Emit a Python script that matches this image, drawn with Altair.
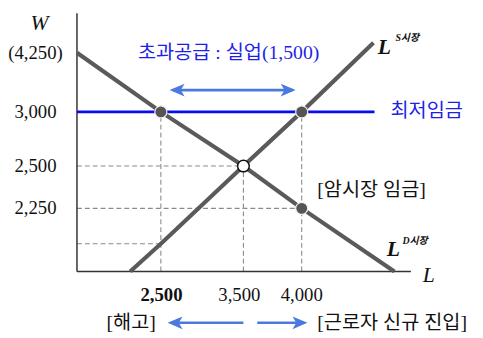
import altair as alt
import pandas as pd

# Diagram units: x runs 0..100 (labour L), y runs 0..110 (wage W); the original diagram is not to scale.
d_x = [0, 24.9, 49.4, 66.7, 94.2]
d_y = [92.5, 67.5, 44.6, 26.7, 0]
s_x = [15.8, 24.9, 49.4, 66.7, 88.0]
s_y = [0, 11.7, 44.6, 67.5, 96.7]
minwage_x = [0, 88.3]
minwage_y = 67.5

filled_x = [24.9, 66.7, 66.7]
filled_y = [67.5, 67.5, 26.7]
open_x = [49.4]
open_y = [44.6]

vdash_x = [24.9, 49.4, 66.7]
vdash_top = [67.5, 44.6, 67.5]
hdash_y = [44.6, 26.7, 11.7]
hdash_right = [49.4, 66.7, 24.9]

ytick_pos = [92.5, 67.5, 44.6, 26.7]
ytick_labels = ["(4,250)", "3,000", "2,500", "2,250"]
xtick_pos = [25.1, 48.2, 66.7]
xtick_labels = ["2,500", "3,500", "4,000"]

SERIF = "Liberation Serif, Noto Sans CJK KR"
BLUE_TXT = "#1f1fe8"
ARROW = "#4a7ae0"
GRAY = "#5a5a5a"

xs = alt.Scale(domain=[0, 100], nice=False, zero=False)
ys = alt.Scale(domain=[0, 110], nice=False, zero=False)


def X(f="x"):
    return alt.X(f"{f}:Q", scale=xs, axis=None)


def Y(f="y"):
    return alt.Y(f"{f}:Q", scale=ys, axis=None)


# axes
axes_df = pd.DataFrame({"x": [0, 0], "x2": [0, 99.1], "y": [0, 0], "y2": [109.2, 0]})
axes = alt.Chart(axes_df).mark_rule(color="#333333", strokeWidth=1.5).encode(
    x=X(), x2="x2:Q", y=Y(), y2="y2:Q")

# dashed guides
vd = pd.DataFrame({"x": vdash_x, "x2": vdash_x, "y": [0] * 3, "y2": vdash_top})
hd = pd.DataFrame({"x": [0] * 3, "x2": hdash_right, "y": hdash_y, "y2": hdash_y})
dash = alt.Chart(pd.concat([vd, hd])).mark_rule(
    color="#8a8a8a", strokeWidth=1.1, strokeDash=[5, 3]).encode(
    x=X(), x2="x2:Q", y=Y(), y2="y2:Q")

# minimum wage
mw = alt.Chart(pd.DataFrame({"x": [minwage_x[0]], "x2": [minwage_x[1]], "y": [minwage_y]})).mark_rule(
    color="#0a0af0", strokeWidth=2.6).encode(x=X(), x2="x2:Q", y=Y())

# demand / supply
curves_df = pd.DataFrame({
    "x": d_x + s_x, "y": d_y + s_y,
    "c": ["D"] * len(d_x) + ["S"] * len(s_x),
    "o": list(range(len(d_x))) + list(range(len(s_x))),
})
curves = alt.Chart(curves_df).mark_line(color=GRAY, strokeWidth=4.2).encode(
    x=X(), y=Y(), detail="c:N", order="o:Q")

pts_f = alt.Chart(pd.DataFrame({"x": filled_x, "y": filled_y})).mark_point(
    filled=True, size=150, fill="#555555", stroke="#f0f0f0", strokeWidth=1.2, opacity=1).encode(x=X(), y=Y())
pts_o = alt.Chart(pd.DataFrame({"x": open_x, "y": open_y})).mark_point(
    filled=True, size=140, fill="white", stroke="#111111", strokeWidth=1.5, opacity=1).encode(x=X(), y=Y())

# arrows
LEFT_HEAD = "M0,0 L2,-0.85 L1.5,0 L2,0.85 Z"
RIGHT_HEAD = "M0,0 L-2,-0.85 L-1.5,0 L-2,0.85 Z"
arrow_lines = pd.DataFrame({
    "x": [28.5, 28.0, 53.5], "x2": [64.0, 49.4, 67.4], "y": [76.7, -21.7, -21.7]})
arr = alt.Chart(arrow_lines).mark_rule(color=ARROW, strokeWidth=2.6).encode(x=X(), x2="x2:Q", y=Y())
lh = alt.Chart(pd.DataFrame({"x": [27.5, 26.9], "y": [76.7, -21.7]})).mark_point(
    shape=LEFT_HEAD, filled=True, size=230, color=ARROW, opacity=1).encode(x=X(), y=Y())
rh = alt.Chart(pd.DataFrame({"x": [64.9, 68.4], "y": [76.7, -21.7]})).mark_point(
    shape=RIGHT_HEAD, filled=True, size=230, color=ARROW, opacity=1).encode(x=X(), y=Y())


def txt(xv, yv, tv, **kw):
    df = pd.DataFrame({"x": xv, "y": yv, "t": tv})
    base = dict(font=SERIF, baseline="middle")
    base.update(kw)
    return alt.Chart(df).mark_text(**base).encode(x=X(), y=Y(), text="t:N")


t_blue = txt([45.0, 103.8], [92.5, 67.9], ["초과공급 : 실업(1,500)", "최저임금"],
             fontSize=20, color=BLUE_TXT, align="center")
t_black_left = txt([71.3, 71.3], [34.6, -21.7], ["[암시장 임금]", "[근로자 신규 진입]"],
                   fontSize=20, color="#111111", align="left")
t_fire = txt([16.1], [-21.7], ["[해고]"], fontSize=20, color="#111111", align="center")
t_ytick = txt([-12.3] * 4, ytick_pos, ytick_labels, fontSize=19, color="#111111", align="center")
t_xtick_b = txt([xtick_pos[0]], [-10.0], [xtick_labels[0]], fontSize=19, color="#111111",
                align="center", fontWeight="bold")
t_xtick = txt(xtick_pos[1:], [-10.0, -10.0], xtick_labels[1:], fontSize=19, color="#111111", align="center")
t_axlab = txt([-11.1, 104.4], [105.0, -1.7], ["W", "L"], fontSize=22, fontStyle="italic",
              color="#111111", align="center")
t_curve_L = txt([91.2, 93.9], [95.0, 9.6], ["L", "L"], fontSize=22, fontStyle="italic",
                fontWeight="bold", color="#111111", align="center")
t_sup = txt([94.5, 96.6], [98.6, 12.8], ["S시장", "D시장"], fontSize=10, fontStyle="italic",
            fontWeight="bold", color="#111111", align="left")

chart = alt.layer(
    dash, axes, mw, curves, pts_f, pts_o, arr, lh, rh,
    t_blue, t_black_left, t_fire, t_ytick, t_xtick_b, t_xtick, t_axlab, t_curve_L, t_sup,
).properties(
    width=342, height=264,
    autosize=alt.AutoSizeParams(type="none"),
    padding={"left": 70, "top": 1, "right": 62, "bottom": 60},
    background="white",
).configure_view(strokeWidth=0)

chart.save("out.html", embed_options={"renderer": "svg", "actions": False})
